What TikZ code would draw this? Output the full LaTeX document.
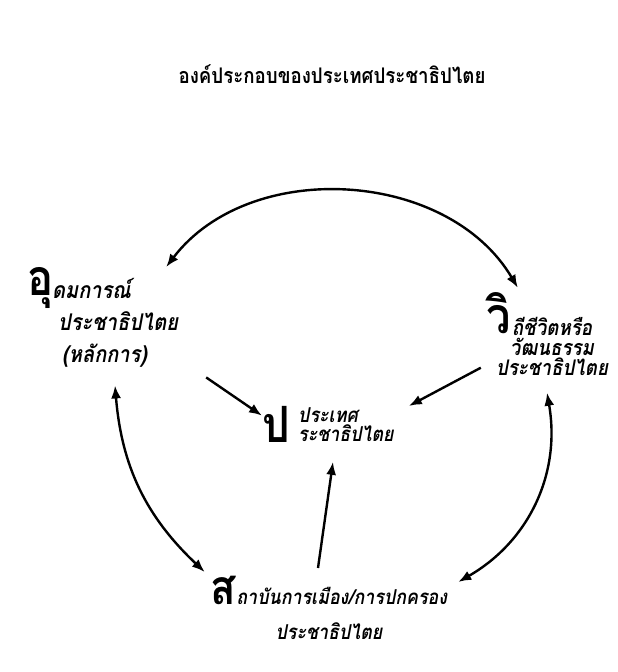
\documentclass[tikz,border=0pt]{standalone}
\usepackage{fontspec}
\newfontfamily\thaifont[Script=Thai, FakeStretch=0.87]{Loma}
\usetikzlibrary{positioning, arrows.meta}
\tikzset{every node/.style={align=center, inner sep=0pt}, >= {Latex[length=13pt, width=10pt]},
  thaitext/.style 2 args={font=\thaifont\bfseries\itshape\fontsize{#1}{#2}\selectfont},
  bigletter/.style={font=\thaifont\bfseries\fontsize{50}{50}\selectfont},
  headline/.style={font=\thaifont\bfseries\fontsize{21.5}{24}\selectfont},
  link/.style={line width=2.4pt}}

\begin{document}
\begin{tikzpicture}[x=1pt, y=-1pt]
    \useasboundingbox (0,0) rectangle (618,672);
    \node [headline, anchor=base] (title) at (332,83) {องค์ประกอบของประเทศประชาธิปไตย};
    % the four parts
    \node [bigletter, anchor=base west] (idealL) at (27,295) {อุ};
    \node [thaitext={23}{32}, align=left, anchor=north west] (ideal) at (52,278) {ดมการณ์\\ \hspace{6pt}ประชาธิปไตย\\ \hspace{10pt}(หลักการ)};
    \node [bigletter, anchor=base west] (wayL) at (486,333) {วิ};
    \node [thaitext={21.5}{20}, anchor=north] (way) at (552,317) {ถีชีวิตหรือ\\ วัฒนธรรม\\ ประชาธิปไตย};
    \node [bigletter, anchor=base west] (countryL) at (262,442) {ป};
    \node [thaitext={20.5}{19.5}, align=left, anchor=north west] (country) at (298,407) {ประเทศ\\ ระชาธิปไตย};
    \node [thaitext={20.5}{35}, anchor=north] (inst) at (329,576) {{\bfseries\upshape\fontsize{48}{48}\selectfont ส}ถาบันการเมือง/การปกครอง\\ ประชาธิปไตย};
    % arrows
    \draw [link, <->] ([xshift=-12pt, yshift=11pt]ideal.north east) to [bend left=56] ([xshift=7pt, yshift=4pt]wayL.north east);
    \draw [link, ->] ([xshift=28pt, yshift=-10pt]ideal.south east) -- ([yshift=-10pt]countryL.north west);
    \draw [link, ->] ([xshift=-15pt, yshift=8pt]way.south west) -- ([xshift=15pt, yshift=1pt]country.north east);
    \draw [link, ->] ([xshift=-11pt, yshift=8pt]inst.north) -- ([xshift=35pt, yshift=-20pt]country.south west);
    \draw [link, <->] ([xshift=63pt, yshift=-18pt]ideal.south west) to [bend right=21] ([xshift=-6pt, yshift=4pt]inst.north west);
    \draw [link, <->] ([xshift=-5pt, yshift=-17pt]way.south) to [bend left=35] ([xshift=11pt, yshift=-6pt]inst.north east);
\end{tikzpicture}
\end{document}
